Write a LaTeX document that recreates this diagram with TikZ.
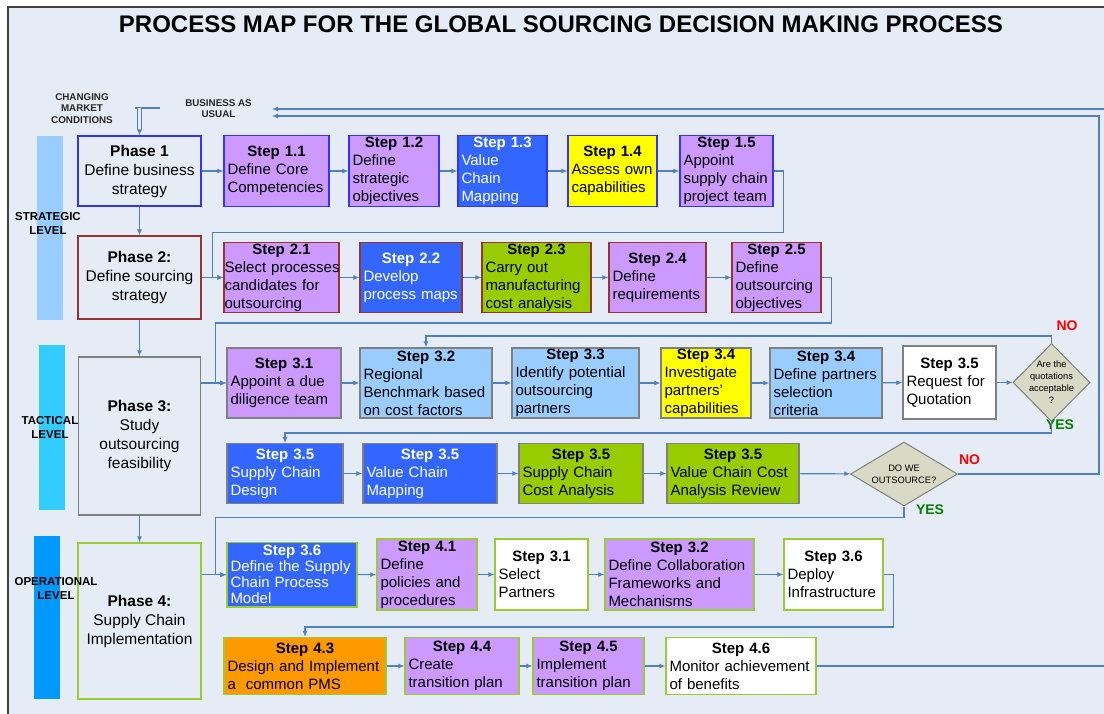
\documentclass[tikz,border=0pt]{standalone}
\usepackage{fontspec}
\setmainfont{Liberation Sans}
\usetikzlibrary{arrows.meta,positioning,shapes.geometric,calc}
\definecolor{paper}{RGB}{230,236,246}
\definecolor{framegray}{RGB}{64,64,64}
\definecolor{linkblue}{RGB}{79,129,189}
\definecolor{lilac}{RGB}{204,153,255}
\definecolor{royal}{RGB}{51,102,255}
\definecolor{lemon}{RGB}{255,255,0}
\definecolor{lime2}{RGB}{153,204,0}
\definecolor{sky2}{RGB}{153,204,255}
\definecolor{amber}{RGB}{255,153,0}
\definecolor{edgeblue}{RGB}{51,51,255}
\definecolor{edgered}{RGB}{153,51,51}
\definecolor{edgegray}{RGB}{128,128,128}
\definecolor{edgegreen}{RGB}{153,204,51}
\definecolor{rhombus}{RGB}{216,218,198}
\definecolor{stratbar}{RGB}{153,204,255}
\definecolor{tactbar}{RGB}{51,204,255}
\definecolor{operbar}{RGB}{0,153,255}
\definecolor{nored}{RGB}{255,0,0}
\definecolor{yesgreen}{RGB}{0,128,0}
\newcommand{\sttl}[1]{\makebox[\linewidth]{\bfseries #1}}
\tikzset{
  stepbox/.style={draw, line width=1.2pt, inner xsep=3.5pt, inner ysep=0pt,
    align=left, font=\fontsize{15}{18}\selectfont},
  bw/.style={minimum width=#1pt, text width=#1pt-7pt},
  row1/.style={stepbox, draw=edgeblue, minimum height=71pt},
  row2/.style={stepbox, draw=edgered, minimum height=70pt},
  row3/.style={stepbox, draw=edgegray, minimum height=70pt},
  row4/.style={stepbox, draw=edgegray, minimum height=59.5pt},
  row5/.style={stepbox, draw=edgegreen, minimum height=71pt},
  row6/.style={stepbox, draw=edgegreen, minimum height=57pt},
  lilacfill/.style={fill=lilac},
  royalfill/.style={fill=royal, text=white},
  lemonfill/.style={fill=lemon},
  limefill/.style={fill=lime2},
  skyfill/.style={fill=sky2},
  plainfill/.style={fill=white},
  amberfill/.style={fill=amber},
  phasebox/.style={draw, line width=1.2pt, fill=paper, align=center, inner sep=2pt,
    minimum width=123pt, font=\fontsize{15.5}{19}\selectfont},
  levelbar/.style={inner sep=0pt, minimum width=26pt},
  levellabel/.style={align=center, font=\fontsize{11.5}{14}\selectfont\bfseries},
  inputlabel/.style={align=center, text=black!85, font=\fontsize{9.8}{11.7}\selectfont\bfseries},
  decision/.style={diamond, draw=edgegray, line width=1pt, fill=rhombus, inner sep=0pt},
  decisiontext/.style={align=center, font=\fontsize{9.3}{12}\selectfont},
  answerno/.style={text=nored, font=\fontsize{14}{16}\selectfont\bfseries},
  answeryes/.style={text=yesgreen, font=\fontsize{14}{16}\selectfont\bfseries},
  flow/.style={-{Latex[length=6pt,width=5pt]}, draw=linkblue, line width=1.1pt},
  link/.style={draw=linkblue, line width=1.1pt}
}
\begin{document}
\begin{tikzpicture}[x=1pt, y=-1pt]
\useasboundingbox (0,0) rectangle (1104,714);
\fill[white] (0,0) rectangle (1104,714);
\draw[framegray, line width=1.2pt, fill=paper] (8,7) rectangle (1140,740);

\node[font=\fontsize{24}{28}\selectfont\bfseries] (title) at (561,24)
  {PROCESS MAP FOR THE GLOBAL SOURCING DECISION MAKING PROCESS};

% Levels
\node[levelbar, fill=stratbar, minimum height=184pt] (strat) at (50,228) {};
\node[levelbar, fill=tactbar, minimum height=165pt] (tact) at (52,427.5) {};
\node[levelbar, fill=operbar, minimum height=163pt] (oper) at (47,617.5) {};

% Inputs
\node[inputlabel] (cmc) at (82,108.5) {CHANGING\\MARKET\\CONDITIONS};
\node[inputlabel] (bau) at (218.5,108.5) {BUSINESS AS\\USUAL};
\coordinate (mkt) at (135,108);
\coordinate (mktend) at (160,108);
\coordinate (bau1) at (272,109);
\coordinate (bau2) at (272,116);
\coordinate (retq) at (1099,116);
\coordinate (retm) at (1130,109);

% Phases
\node[phasebox, draw=edgeblue, minimum height=70pt] (ph1) at (139.5,171) {\textbf{Phase 1}\\Define business\\strategy};
\node[phasebox, draw=edgered, minimum height=83pt] (ph2) at (139.5,277.5) {\textbf{Phase 2:}\\Define sourcing\\strategy};
\node[phasebox, draw=edgegray, minimum width=122pt, minimum height=158pt] (ph3) at (139.5,436) {\textbf{Phase 3:}\\Study\\outsourcing\\feasibility};
\node[phasebox, draw=edgegreen, minimum height=156pt] (ph4) at (139.5,621) {\textbf{Phase 4:}\\Supply Chain\\Implementation};

\node[levellabel] (stratl) at (48,223) {STRATEGIC\\LEVEL};
\node[levellabel] (tactl) at (50,427) {TACTICAL\\LEVEL};
\node[levellabel] (operl) at (56,588.5) {OPERATIONAL\\LEVEL};

% Row 1
\node[row1, lilacfill, bw=105] (s11) at (276.5,171) {\sttl{Step 1.1}\\Define Core\\Competencies};
\node[row1, lilacfill, bw=90] (s12) at (394,171) {\sttl{Step 1.2}\\Define\\strategic\\objectives};
\node[row1, royalfill, bw=89] (s13) at (502.5,171) {\sttl{Step 1.3}\\Value\\Chain\\Mapping};
\node[row1, lemonfill, bw=89] (s14) at (612.5,171) {\sttl{Step 1.4}\\Assess own\\capabilities};
\node[row1, lilacfill, bw=93] (s15) at (726.5,171) {\sttl{Step 1.5}\\Appoint\\supply chain\\project team};

% Row 2
\node[row2, lilacfill, bw=115, inner xsep=0.5pt, text width=114pt] (s21) at (281.5,277.5) {\sttl{Step 2.1}\\\mbox{Select processes}\\candidates for\\outsourcing};
\node[row2, royalfill, bw=102] (s22) at (411,277.5) {\sttl{Step 2.2}\\Develop\\process maps};
\node[row2, limefill, bw=109] (s23) at (536.5,277.5) {\sttl{Step 2.3}\\Carry out\\manufacturing\\cost analysis};
\node[row2, lilacfill, bw=97] (s24) at (657.5,277.5) {\sttl{Step 2.4}\\Define\\requirements};
\node[row2, lilacfill, bw=89] (s25) at (776.5,277.5) {\sttl{Step 2.5}\\Define\\outsourcing\\objectives};

% Row 3
\node[row3, lilacfill, bw=114] (s31) at (284,383) {\sttl{Step 3.1}\\Appoint a due\\diligence team};
\node[row3, skyfill, bw=132] (s32) at (426,383) {\sttl{Step 3.2}\\Regional\\Benchmark based\\on cost factors};
\node[row3, skyfill, bw=127] (s33) at (575.5,383) {\sttl{Step 3.3}\\Identify potential\\outsourcing\\partners};
\node[row3, lemonfill, bw=90] (s34) at (706,383) {\sttl{Step 3.4}\\Investigate\\partners’\\capabilities};
\node[row3, skyfill, bw=112] (s34b) at (826,383) {\sttl{Step 3.4}\\Define partners\\selection\\criteria};
\node[row3, plainfill, bw=93, minimum height=73pt] (s35) at (949.5,382.5) {\sttl{Step 3.5}\\Request for\\Quotation};
\node[decision, minimum width=77pt, minimum height=78pt] (q1) at (1051.5,382.5) {};
\node[decisiontext] (q1t) at (q1) {Are the\\quotations\\acceptable\\?};
\node[answerno] (no1) at (1067,326) {NO};
\node[answeryes] (yes1) at (1060,425) {YES};

% Row 4
\node[row4, royalfill, bw=116] (r4a) at (285,473.5) {\sttl{Step 3.5}\\Supply Chain\\Design};
\node[row4, royalfill, bw=134] (r4b) at (430,473.5) {\sttl{Step 3.5}\\Value Chain\\Mapping};
\node[row4, limefill, bw=124] (r4c) at (581,473.5) {\sttl{Step 3.5}\\Supply Chain\\Cost Analysis};
\node[row4, limefill, bw=132] (r4d) at (733,473.5) {\sttl{Step 3.5}\\Value Chain Cost\\Analysis Review};
\node[decision, minimum width=107pt, minimum height=64pt] (q2) at (904,474) {};
\node[decisiontext] (q2t) at (q2) {DO WE\\OUTSOURCE?};
\node[answerno] (no2) at (969.5,460) {NO};
\node[answeryes] (yes2) at (930,510) {YES};

% Row 5
\node[row5, royalfill, bw=130, minimum height=64.5pt, font=\fontsize{15}{16}\selectfont] (s36) at (292,574.75) {\sttl{Step 3.6}\\Define the Supply\\Chain Process\\Model};
\node[row5, lilacfill, bw=100] (s41) at (427,574.5) {\sttl{Step 4.1}\\Define\\policies and\\procedures};
\node[row5, plainfill, bw=93] (s31b) at (541.5,574.5) {\sttl{Step 3.1}\\Select\\Partners};
\node[row5, lilacfill, bw=149] (s32b) at (679.5,574.5) {\sttl{Step 3.2}\\Define Collaboration\\Frameworks and\\Mechanisms};
\node[row5, plainfill, bw=99] (s36b) at (833.5,574.5) {\sttl{Step 3.6}\\Deploy\\Infrastructure};

% Row 6
\node[row6, amberfill, bw=162] (s43) at (305,666) {\sttl{Step 4.3}\\Design and Implement\\a\ \ common PMS};
\node[row6, lilacfill, bw=114] (s44) at (462,666) {\sttl{Step 4.4}\\Create\\transition plan};
\node[row6, lilacfill, bw=111] (s45) at (588.5,666) {\sttl{Step 4.5}\\Implement\\transition plan};
\node[row6, plainfill, bw=150] (s46) at (741,666) {\sttl{Step 4.6}\\Monitor achievement\\of benefits};

% Connections
\draw[link] (mkt) -- (mktend);
\draw[flow, double=paper, double distance=2.6pt] (ph1.north |- mkt) -- (ph1.north);
\draw[flow] (ph1) -- (ph2);
\draw[flow] (ph2) -- (ph3);
\draw[flow] (ph3) -- (ph4);

\draw[flow] (ph1) -- (s11);
\draw[flow] (s11) -- (s12);
\draw[flow] (s12) -- (s13);
\draw[flow] (s13) -- (s14);
\draw[flow] (s14) -- (s15);
\draw[flow] (s15.east) -- ++(10,0) -- ++(0,61.5) -| ($(s21.west)+(-11,0)$) -- (s21.west);

\draw[flow] (ph2) -- (s21);
\draw[flow] (s21) -- (s22);
\draw[flow] (s22) -- (s23);
\draw[flow] (s23) -- (s24);
\draw[flow] (s24) -- (s25);
\draw[flow] (s25.east) -- ++(10,0) -- ++(0,45.5) -| ($(s31.west)+(-11,0)$) -- (s31.west);

\draw[flow] (ph3.east |- s31.west) -- (s31.west);
\draw[flow] (s31) -- (s32);
\draw[flow] (s32) -- (s33);
\draw[flow] (s33) -- (s34);
\draw[flow] (s34) -- (s34b);
\draw[flow] (s34b) -- (s35);
\draw[flow] (s35) -- (q1);
\draw[flow] (q1.north) -- ++(0,-7) -| (s32.north);
\draw[flow] (q1.south) -- ++(0,11) -| (r4a.north);

\draw[flow] (r4a) -- (r4b);
\draw[flow] (r4b) -- (r4c);
\draw[flow] (r4c) -- (r4d);
\draw[flow] (r4d) -- (q2);
\draw[flow] (q2.east) -| (retq) -- (bau2);
\draw[flow] (q2.south) -- ++(0,11) -| ($(s36.west)+(-11,0)$) -- (s36.west);

\draw[flow] (ph4.east |- s36.west) -- (s36.west);
\draw[flow] (s36) -- (s41);
\draw[flow] (s41) -- (s31b);
\draw[flow] (s31b) -- (s32b);
\draw[flow] (s32b) -- (s36b);
\draw[flow] (s36b.east) -- ++(10,0) -- ++(0,52.5) -| (s43.north);

\draw[flow] (s43) -- (s44);
\draw[flow] (s44) -- (s45);
\draw[flow] (s45) -- (s46);
\draw[flow] (s46.east) -| (retm) -- (bau1);
\end{tikzpicture}
\end{document}
